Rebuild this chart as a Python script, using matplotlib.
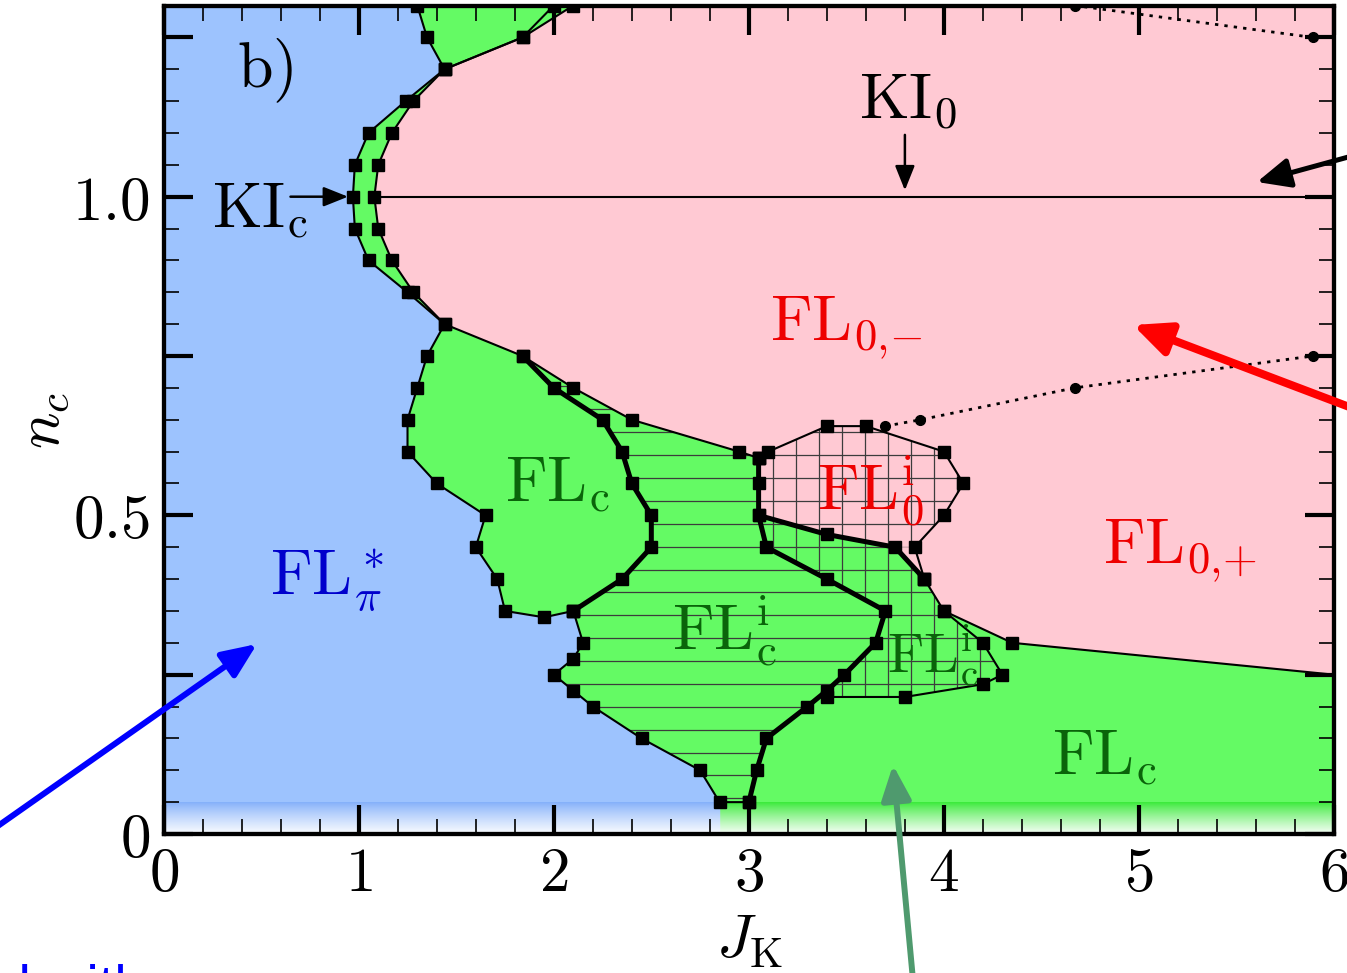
import numpy as np
import matplotlib
matplotlib.use("Agg")
import matplotlib.pyplot as plt
from matplotlib.patches import Polygon, FancyArrowPatch
from matplotlib.collections import LineCollection
from matplotlib.ticker import FixedLocator, FixedFormatter, MultipleLocator

plt.rcParams["mathtext.fontset"] = "cm"

# ---------------- phase boundaries (J_K, n_c) ----------------
# FL*_pi | FL_c boundary (upper part, down to the FL_c^i corner)
edge_J = [1.30, 1.35, 1.44, 1.24, 1.05, 0.98, 0.97, 0.98, 1.05, 1.25, 1.44,
          1.35, 1.30, 1.25, 1.25, 1.40, 1.65, 1.60, 1.71, 1.75, 1.95, 2.10]
edge_n = [1.30, 1.25, 1.20, 1.15, 1.10, 1.05, 1.00, 0.95, 0.90, 0.85, 0.80,
          0.75, 0.70, 0.65, 0.60, 0.55, 0.50, 0.45, 0.40, 0.35, 0.34, 0.35]
# FL*_pi | FL_c^i boundary (lower part)
edgei_J = [2.10, 2.15, 2.10, 2.00, 2.10, 2.20, 2.45, 2.75, 2.85, 3.00]
edgei_n = [0.35, 0.30, 0.275, 0.25, 0.225, 0.20, 0.15, 0.10, 0.05, 0.05]
# FL_c | KI_0 boundary at the top
top_J = [1.44, 1.84, 2.00]
top_n = [1.20, 1.25, 1.30]
# FL_c | FL_0 (pink) boundary
pink_J = [2.10, 1.84, 1.44, 1.28, 1.17, 1.10, 1.08, 1.10, 1.17, 1.28, 1.44,
          1.84, 2.10, 2.40, 2.95, 3.05]
pink_n = [1.30, 1.25, 1.20, 1.15, 1.10, 1.05, 1.00, 0.95, 0.90, 0.85, 0.80,
          0.75, 0.70, 0.65, 0.60, 0.59]
# FL_c | FL_c^i (thick, left)
thickL_J = [1.84, 2.00, 2.25, 2.35, 2.40, 2.50, 2.50, 2.35, 2.10]
thickL_n = [0.75, 0.70, 0.65, 0.60, 0.55, 0.50, 0.45, 0.40, 0.35]
# FL_c^i | FL_c (thick, right)
thickR_J = [3.00, 3.04, 3.09, 3.30, 3.40, 3.49, 3.65, 3.70, 3.40, 3.09, 3.05, 3.05, 3.05]
thickR_n = [0.05, 0.10, 0.15, 0.20, 0.225, 0.25, 0.30, 0.35, 0.40, 0.45, 0.50, 0.55, 0.59]
# FL_0^i | FL_c^i (thick)
thickM_J = [3.05, 3.40, 3.75, 3.90]
thickM_n = [0.50, 0.47, 0.45, 0.40]
# FL_0^i outline
fl0i_J = [3.05, 3.10, 3.40, 3.60, 4.00, 4.10, 4.00, 3.85, 3.90]
fl0i_n = [0.59, 0.60, 0.64, 0.64, 0.60, 0.55, 0.50, 0.45, 0.40]
# FL_c | FL_0,+ boundary
low_J = [3.90, 4.00, 4.35, 6.00]
low_n = [0.40, 0.35, 0.30, 0.25]
# FL_c^i (cross-hatched) outline inside FL_c
flci_J = [4.00, 4.20, 4.30, 4.20, 3.80, 3.40]
flci_n = [0.35, 0.30, 0.25, 0.235, 0.215, 0.215]
# KI_0 line
ki0_J = [1.08, 6.00]
ki0_n = [1.00, 1.00]
# dotted crossover lines
dotA_J = [4.67, 5.89]
dotA_n = [1.30, 1.25]
dotB_J = [3.70, 3.88, 4.67, 5.89]
dotB_n = [0.64, 0.65, 0.70, 0.75]

x_ticks = [0, 1, 2, 3, 4, 5, 6]
x_labels = ["$0$", "$1$", "$2$", "$3$", "$4$", "$5$", "$6$"]
y_ticks = [0, 0.25, 0.5, 0.75, 1.0, 1.25]
y_labels = ["$0$", "", "$0.5$", "", "$1.0$", ""]

BLUE = "#9DC3FE"
PINK = "#FFC9D3"
GREEN = "#64FA64"
HATCH = "#3C3C3C"

W, H = 1347, 973
fig = plt.figure(figsize=(W / 100, H / 100), dpi=100)
ax = fig.add_axes([163.7 / W, 1 - 834 / H, (1334 - 163.7) / W, (834 - 5.5) / H])
ax.set_xlim(0, 6)
ax.set_ylim(0, 1.3)
ax.set_facecolor(BLUE)
ax.set_axisbelow(False)


def pts(J, n):
    return np.column_stack([J, n])


XMAX, YMAX = 6.0, 1.3

# green FL_c area: everything right of the FL*_pi boundary
green_xy = np.vstack([pts(edge_J, edge_n), pts(edgei_J[1:-1], edgei_n[1:-1]),
                      [[edgei_J[-2], 0], [XMAX, 0], [XMAX, YMAX]]])
ax.add_patch(Polygon(green_xy, closed=True, fc=GREEN, ec="none", zorder=0.5))

# pink FL_0 / KI_0 area
pink_xy = np.vstack([pts(pink_J, pink_n),
                     pts(thickR_J[-2:-4:-1], thickR_n[-2:-4:-1]),
                     pts(thickM_J[1:], thickM_n[1:]),
                     pts(low_J[1:], low_n[1:]),
                     [[XMAX, YMAX]]])
ax.add_patch(Polygon(pink_xy, closed=True, fc=PINK, ec="none", zorder=0.6))

# hatched regions
fcL_xy = np.vstack([pts(thickL_J, thickL_n), pts(edgei_J[1:], edgei_n[1:]),
                    pts(thickR_J[1:], thickR_n[1:]),
                    pts(pink_J[-2:-5:-1], pink_n[-2:-5:-1])])
fl0i_xy = np.vstack([pts(fl0i_J[:-1], fl0i_n[:-1]),
                     pts(thickM_J[-2::-1], thickM_n[-2::-1]),
                     pts(thickR_J[-2:-1], thickR_n[-2:-1])])
fcR_xy = np.vstack([pts(thickM_J, thickM_n), pts(low_J[1:2], low_n[1:2]),
                    pts(flci_J[1:], flci_n[1:]),
                    pts(thickR_J[4:10], thickR_n[4:10])])

hy = np.arange(0.056, YMAX, 0.0359)
hx = np.arange(0.0648, XMAX, 0.1177)
hsegs = [[(0, y), (XMAX, y)] for y in hy]
vsegs = [[(x, 0), (x, YMAX)] for x in hx]


def hatch(segs, xy):
    clip = Polygon(xy, closed=True, transform=ax.transData)
    lc = LineCollection(segs, colors=HATCH, linewidths=0.9, zorder=1.2)
    ax.add_collection(lc)
    lc.set_clip_path(clip)


for poly in (fcL_xy, fl0i_xy, fcR_xy):
    hatch(hsegs, poly)
for poly in (fl0i_xy, fcR_xy):
    hatch(vsegs, poly)

# faded strip along the bottom edge
xs = np.linspace(0, XMAX, 1200)
ts = np.linspace(0, 1, 60)[:, None, None]
blue_d = np.array([132, 176, 250]) / 255
green_d = np.array([58, 234, 58]) / 255
base = np.where((xs < edgei_J[-2])[None, :, None], blue_d, green_d)
w = 0.96 * ts ** 0.85
strip = base * (1 - w) + w
ax.imshow(strip, extent=[0, XMAX, 0, 0.05], aspect="auto", origin="upper",
          interpolation="bilinear", zorder=1.0)

# boundary lines
thin = dict(color="black", lw=1.5, marker="s", ms=9, mfc="black", mec="black", zorder=2)
thick = dict(color="black", lw=3.6, marker="s", ms=9, mfc="black", mec="black", zorder=2)
ax.plot(edge_J, edge_n, **thin)
ax.plot(edgei_J, edgei_n, **thin)
ax.plot(top_J, top_n, **thin)
ax.plot(pink_J, pink_n, **thin)
ax.plot(fl0i_J, fl0i_n, **thin)
ax.plot(low_J, low_n, markevery=slice(0, -1), **thin)
ax.plot(flci_J, flci_n, **thin)
ax.plot(thickL_J, thickL_n, **thick)
ax.plot(thickR_J, thickR_n, **thick)
ax.plot(thickM_J, thickM_n, **thick)
ax.plot(ki0_J, ki0_n, color="black", lw=1.5, zorder=2)
for J, n in ((dotA_J, dotA_n), (dotB_J, dotB_n)):
    ax.plot(J, n, color="black", lw=2.0, dashes=(1.2, 2.2), marker="o", ms=7,
            mfc="black", mec="black", zorder=2)

# ticks
ax.xaxis.set_major_locator(FixedLocator(x_ticks))
ax.xaxis.set_major_formatter(FixedFormatter(x_labels))
ax.xaxis.set_minor_locator(MultipleLocator(0.2))
ax.yaxis.set_major_locator(FixedLocator(y_ticks))
ax.yaxis.set_major_formatter(FixedFormatter(y_labels))
ax.yaxis.set_minor_locator(MultipleLocator(0.05))
ax.tick_params(which="both", direction="in", top=True, right=True)
ax.tick_params(which="major", length=21, width=3, labelsize=44)
ax.tick_params(axis="x", which="major", pad=8)
ax.tick_params(axis="y", which="major", pad=10)
ax.tick_params(which="minor", length=10.5, width=1.2)
for s in ax.spines.values():
    s.set_linewidth(3.1)
    s.set_zorder(3)

# region labels
FS = 46
DKGREEN = "#0A640A"
RED = "#EE0000"
lab = dict(ha="left", va="baseline", fontsize=FS, zorder=4)
ax.text(0.376, 1.171, r"$\mathrm{b)}$", color="black", **lab)
ax.text(3.567, 1.123, r"$\mathrm{KI}_0$", color="black", **lab)
ax.text(0.246, 0.951, r"$\mathrm{KI}_\mathrm{c}$", color="black", **lab)
ax.text(3.109, 0.775, r"$\mathrm{FL}_{0{,}{-}}$", color=RED, **lab)
ax.text(1.750, 0.521, r"$\mathrm{FL}_\mathrm{c}$", color=DKGREEN, **lab)
ax.text(3.348, 0.508, r"$\mathrm{FL}_0^\mathrm{i}$", color=RED, **lab)
ax.text(4.816, 0.425, r"$\mathrm{FL}_{0{,}{+}}$", color=RED, **lab)
ax.text(0.545, 0.375, r"$\mathrm{FL}_\pi^*$", color="#0000CC", **lab)
ax.text(2.604, 0.289, r"$\mathrm{FL}_\mathrm{c}^\mathrm{i}$", color=DKGREEN, **lab)
ax.text(3.707, 0.255, r"$\mathrm{FL}_\mathrm{c}^\mathrm{i}$", color=DKGREEN,
        ha="left", va="baseline", fontsize=40, zorder=4)
ax.text(4.554, 0.093, r"$\mathrm{FL}_\mathrm{c}$", color=DKGREEN, **lab)

# arrows pointing at KI_c and KI_0
small = dict(arrowstyle="-|>,head_length=0.75,head_width=0.3", color="black",
             lw=1.8, shrinkA=0, shrinkB=0, mutation_scale=20)
ax.annotate("", xy=(0.945, 1.0), xytext=(0.65, 1.0), arrowprops=small, zorder=4)
ax.annotate("", xy=(3.80, 1.01), xytext=(3.80, 1.097), arrowprops=small, zorder=4)

# axis titles
fig.text(750 / W, 1 - 958 / H, r"$J_\mathrm{K}$", fontsize=44, ha="center", va="baseline")
fig.text(42 / W, 1 - 420 / H, r"$n_c$", fontsize=44, ha="center", va="center",
         rotation=90)


# call-out arrows around the panel (positions in image pixels, top-left origin)
def callout(tail, tip, color, lw, hl, hw):
    a = FancyArrowPatch((tail[0] / W, 1 - tail[1] / H), (tip[0] / W, 1 - tip[1] / H),
                        transform=fig.transFigure, color=color, lw=lw,
                        arrowstyle=f"-|>,head_length={hl},head_width={hw}",
                        mutation_scale=1, shrinkA=0, shrinkB=0, zorder=10)
    fig.add_artist(a)


callout((1352, 156), (1257, 182), "black", 3.6, 20, 9)
callout((1352, 408), (1133, 325), "#FF0000", 5.8, 22, 10)
callout((-5, 828), (257, 644), "#0000FF", 4.3, 21, 9)
callout((913, 980), (893, 765), "#4F9A6E", 4.3, 21, 9)

# caption line running off the bottom edge
fig.text(0 / W, 1 - 1004 / H, "d with", color="#0000FF", fontsize=40,
         family="Liberation Sans", ha="left", va="baseline")

fig.savefig("out.png", dpi=100)
